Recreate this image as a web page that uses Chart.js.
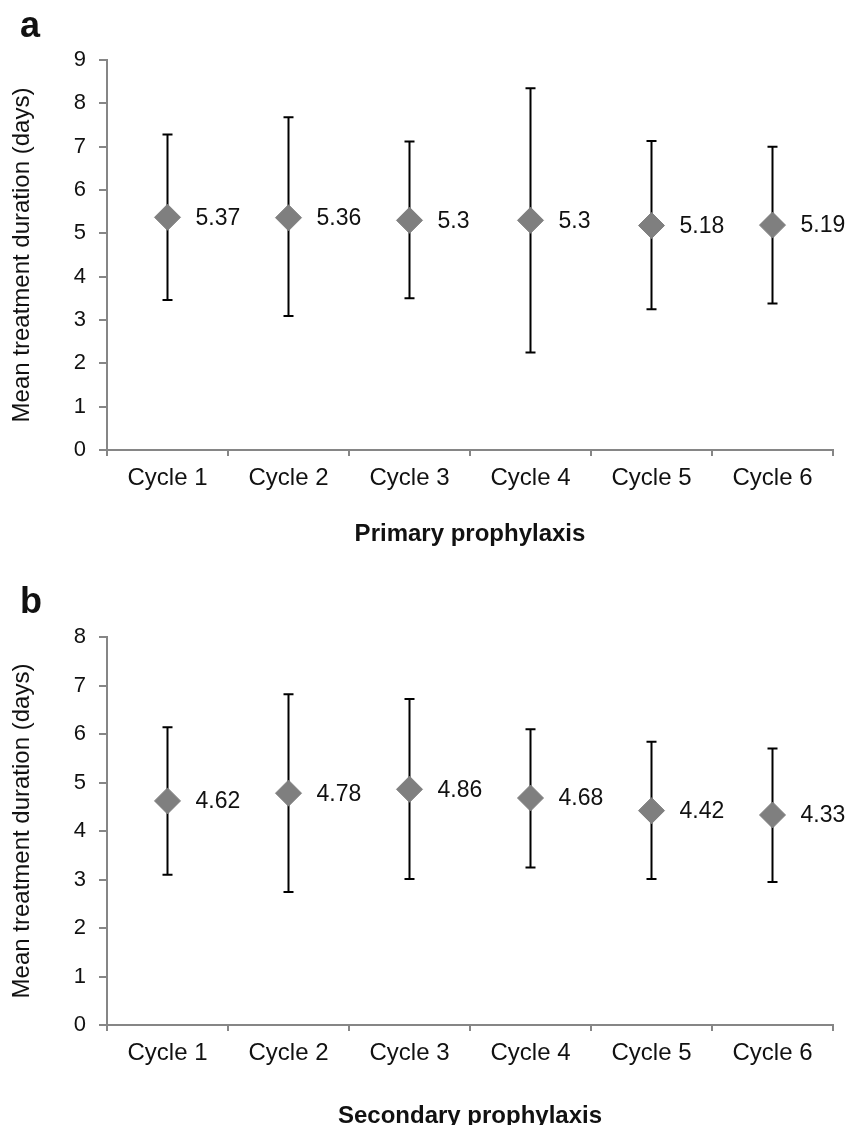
<!DOCTYPE html>
<html>
<head>
<meta charset="utf-8">
<script src="https://cdn.jsdelivr.net/npm/chart.js@4/dist/chart.umd.min.js"></script>
<style>
  html, body { margin: 0; padding: 0; background: #fff; overflow: hidden; }
  #wrap { position: relative; width: 849px; height: 1125px; }
  canvas { position: absolute; left: 0; }
</style>
</head>
<body>
<div id="wrap">
  <canvas id="chartA" width="849" height="565" style="top:0"></canvas>
  <canvas id="chartB" width="849" height="575" style="top:565px"></canvas>
</div>
<script>
// data
const categories = ['Cycle 1', 'Cycle 2', 'Cycle 3', 'Cycle 4', 'Cycle 5', 'Cycle 6'];

const primaryMean = [5.37, 5.36, 5.3, 5.3, 5.18, 5.19];
const primaryLow  = [3.46, 3.09, 3.50, 2.25, 3.25, 3.38];
const primaryHigh = [7.28, 7.68, 7.12, 8.35, 7.13, 7.00];

const secondaryMean = [4.62, 4.78, 4.86, 4.68, 4.42, 4.33];
const secondaryLow  = [3.10, 2.74, 3.01, 3.25, 3.01, 2.95];
const secondaryHigh = [6.14, 6.82, 6.72, 6.10, 5.84, 5.70];

const yTitle = 'Mean treatment duration (days)';
const FONT = '"Liberation Sans", Arial, sans-serif';
const axisGray = '#868686';
const markerGray = '#7f7f7f';

// whiskers, drawn under the diamonds
const errorBars = {
    id: 'errorBars',
    beforeDatasetsDraw(chart, args, opts) {
        const { ctx, scales: { x, y } } = chart;
        ctx.save();
        ctx.strokeStyle = '#000';
        ctx.lineWidth = 2;
        opts.low.forEach((lo, i) => {
            const px = x.getPixelForValue(i);
            const yLo = y.getPixelForValue(lo);
            const yHi = y.getPixelForValue(opts.high[i]);
            ctx.beginPath();
            ctx.moveTo(px, yLo); ctx.lineTo(px, yHi);
            ctx.moveTo(px - 5, yLo); ctx.lineTo(px + 5, yLo);
            ctx.moveTo(px - 5, yHi); ctx.lineTo(px + 5, yHi);
            ctx.stroke();
        });
        ctx.restore();
    }
};

// value next to each diamond + panel letter
const valueLabels = {
    id: 'valueLabels',
    afterDatasetsDraw(chart, args, opts) {
        const { ctx } = chart;
        const meta = chart.getDatasetMeta(0);
        const values = chart.data.datasets[0].data;
        ctx.save();
        ctx.fillStyle = '#111';
        ctx.font = '23px ' + FONT;
        ctx.textAlign = 'left';
        ctx.textBaseline = 'middle';
        meta.data.forEach((pt, i) => {
            ctx.fillText(String(values[i]), pt.x + 28, pt.y + 1);
        });
        ctx.font = 'bold 36px ' + FONT;
        ctx.textBaseline = 'alphabetic';
        ctx.fillText(opts.letter, 20, opts.letterY);
        ctx.restore();
    }
};

function makeChart(id, means, low, high, yMax, xTitle, padTop, titlePad, letter, letterY) {
    const ctx = document.getElementById(id).getContext('2d');
    return new Chart(ctx, {
        type: 'line',
        data: {
            labels: categories,
            datasets: [{
                data: means,
                showLine: false,
                pointStyle: 'rectRot',
                pointRadius: 13,
                pointHoverRadius: 13,
                pointBackgroundColor: markerGray,
                pointBorderColor: markerGray,
                pointBorderWidth: 1
            }]
        },
        options: {
            responsive: false,
            animation: false,
            devicePixelRatio: 1,
            layout: { padding: { top: padTop, right: 16, left: 0, bottom: 0 } },
            scales: {
                x: {
                    type: 'category',
                    offset: true,
                    afterFit: (s) => { s.height = 115; },
                    border: { color: axisGray, width: 2 },
                    grid: {
                        offset: true,
                        drawOnChartArea: false,
                        drawTicks: true,
                        tickLength: 6,
                        color: axisGray,
                        lineWidth: 2
                    },
                    ticks: {
                        color: '#111',
                        font: { family: FONT, size: 24 },
                        padding: 8,
                        maxRotation: 0
                    },
                    title: {
                        display: true,
                        text: xTitle,
                        color: '#111',
                        font: { family: FONT, size: 24, weight: 'bold' },
                        padding: { top: 0, bottom: titlePad }
                    }
                },
                y: {
                    min: 0,
                    max: yMax,
                    afterFit: (s) => { s.width = 107; },
                    border: { color: axisGray, width: 2 },
                    grid: {
                        drawOnChartArea: false,
                        drawTicks: true,
                        tickLength: 8,
                        color: axisGray,
                        lineWidth: 2
                    },
                    ticks: {
                        stepSize: 1,
                        color: '#111',
                        font: { family: FONT, size: 22 },
                        padding: 13
                    },
                    title: {
                        display: true,
                        text: yTitle,
                        color: '#111',
                        font: { family: FONT, size: 24 },
                        padding: { top: 8, bottom: 0 }
                    }
                }
            },
            plugins: {
                legend: { display: false },
                tooltip: { enabled: false },
                errorBars: { low: low, high: high },
                valueLabels: { letter: letter, letterY: letterY }
            }
        },
        plugins: [errorBars, valueLabels]
    });
}

makeChart('chartA', primaryMean, primaryLow, primaryHigh, 9, 'Primary prophylaxis', 60, 16, 'a', 37);
makeChart('chartB', secondaryMean, secondaryLow, secondaryHigh, 8, 'Secondary prophylaxis', 72, 9, 'b', 48);
</script>
</body>
</html>
